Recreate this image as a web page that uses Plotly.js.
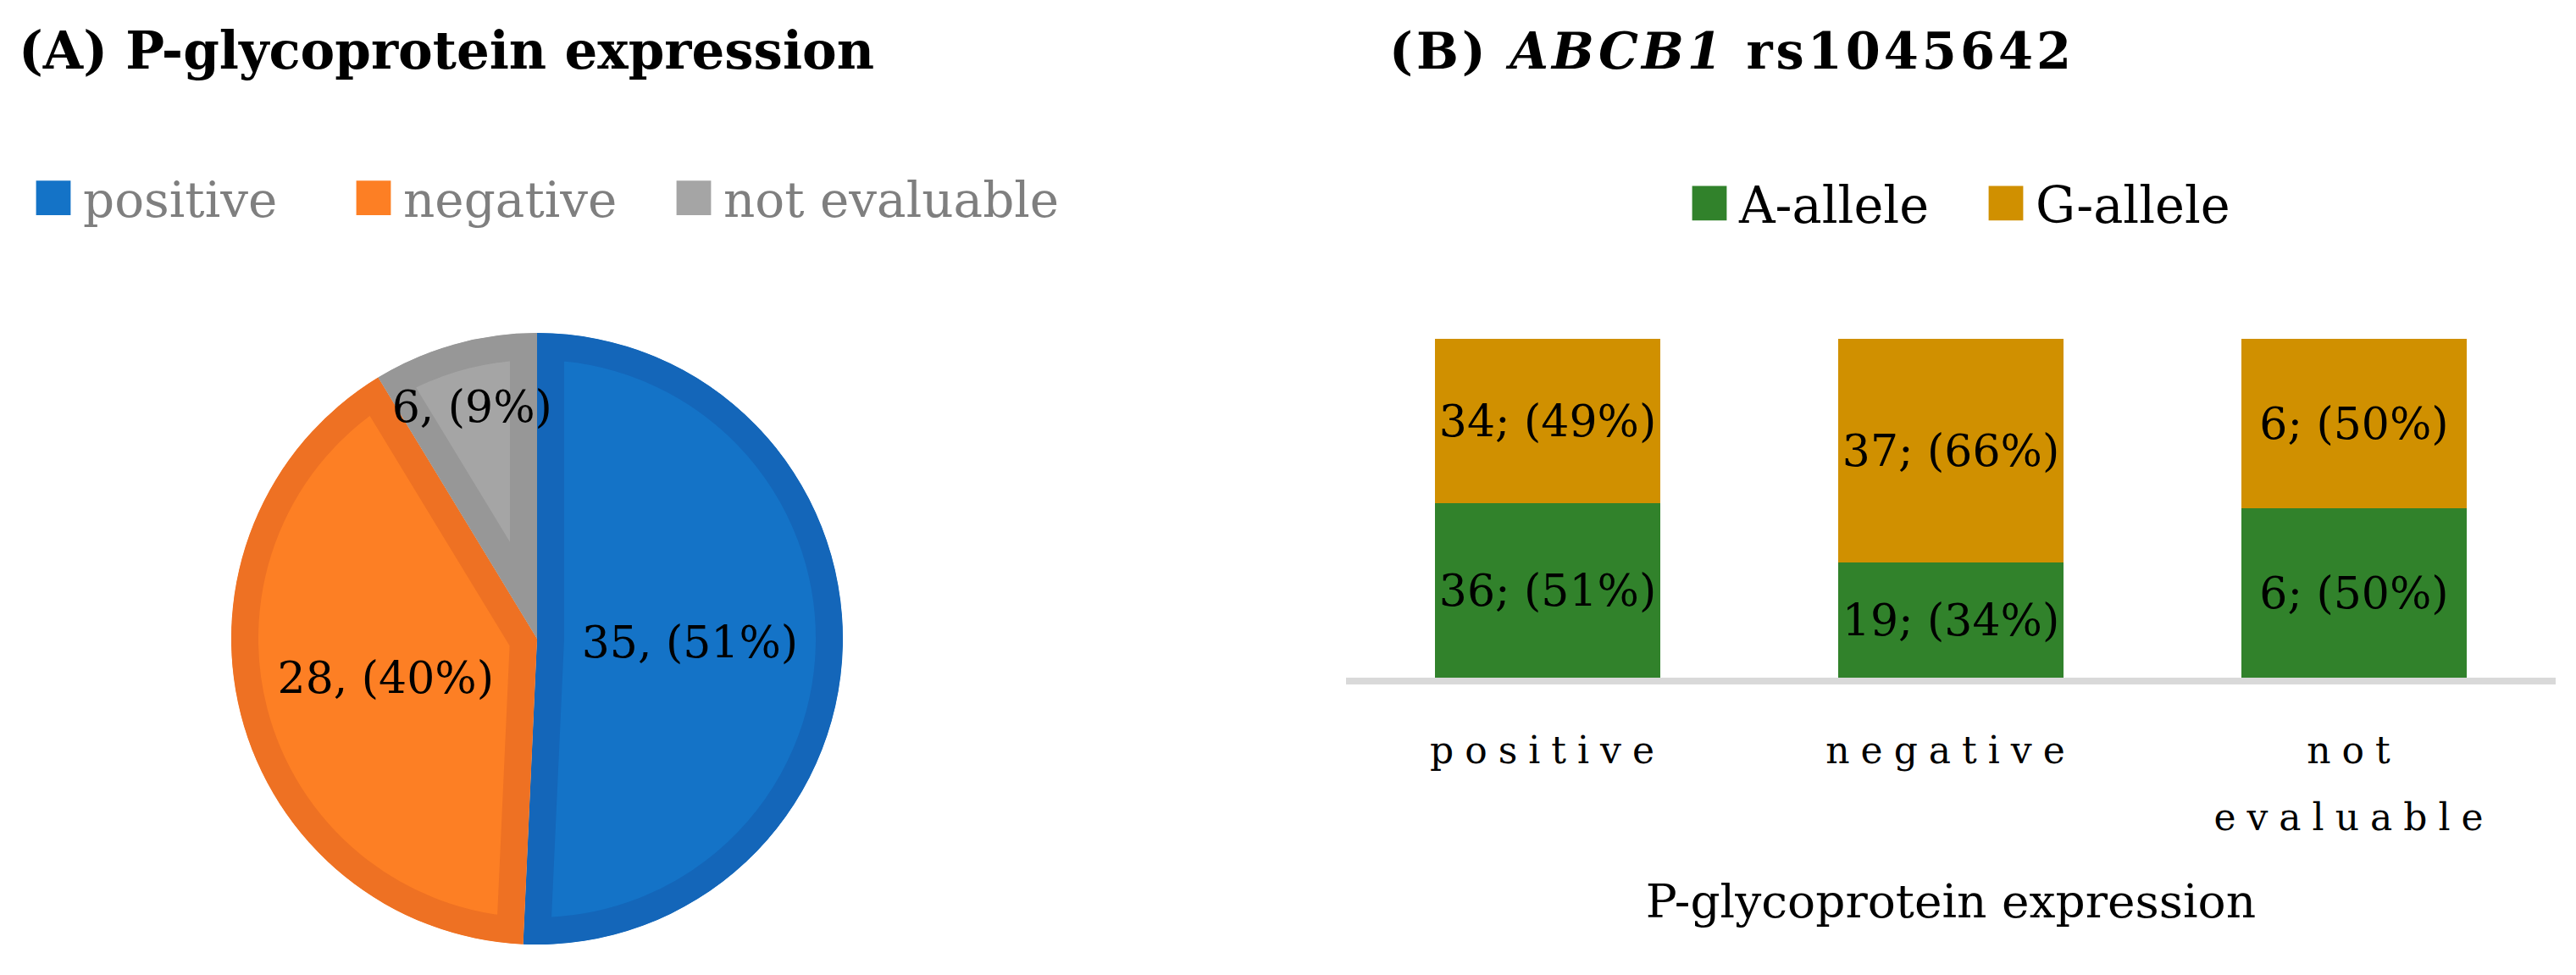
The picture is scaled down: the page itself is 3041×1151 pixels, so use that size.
<!DOCTYPE html>
<html>
<head>
<meta charset="utf-8">
<script src="https://cdn.plot.ly/plotly-3.0.1.min.js"></script>
<style>
  body { margin: 0; background: #fff; }
  #chart { width: 3041px; height: 1151px; }
  /* wide letter spacing like the original tick labels and panel B title */
  .xtick text { letter-spacing: 13px; }
  .gtitle { letter-spacing: 4px; }
  /* bigger square legend keys, and don't cut the last legend entry */
  .legendpoints path { transform: translate(35px, 0px) scale(3.4); stroke-width: 0 !important; }
  .legend .scrollbox { clip-path: none !important; }
</style>
</head>
<body>
<div id="chart"></div>
<script>
// panel A - P-glycoprotein expression
var pgpLabels = ['positive', 'negative', 'not evaluable'];
var pgpCounts = [35, 28, 6];
var pgpPct = [51, 40, 9];
var pieFill = ['#1473c7', '#fd7f24', '#a5a5a5'];
var pieEdge = ['#1466b9', '#ee7123', '#979797'];

// panel B - ABCB1 rs1045642 alleles per group
var groups = ['positive', 'negative', 'not<br>evaluable'];
var aCounts = [36, 19, 6];
var aPct = [51, 34, 50];
var gCounts = [34, 37, 6];
var gPct = [49, 66, 50];

var serif = 'DejaVu Serif';

var pieText = pgpCounts.map(function (v, i) { return v + ', (' + pgpPct[i] + '%)'; });
var aText = aCounts.map(function (v, i) { return v + '; (' + aPct[i] + '%)'; });
var gText = gCounts.map(function (v, i) { return v + '; (' + gPct[i] + '%)'; });

var pie = {
  type: 'pie',
  labels: pgpLabels,
  values: pgpCounts,
  text: pieText,
  textinfo: 'text',
  textposition: 'inside',
  insidetextorientation: 'horizontal',
  textfont: {family: serif, size: 52, color: '#000'},
  sort: false,
  direction: 'clockwise',
  rotation: 0,
  marker: {colors: pieFill, line: {color: pieEdge, width: 64}},
  domain: {x: [273 / 3041, 995 / 3041], y: [36 / 1151, 758 / 1151]},
  legend: 'legend',
  hoverinfo: 'none'
};

var barA = {
  type: 'bar',
  name: 'A-allele',
  x: groups,
  y: aCounts,
  text: aText,
  textposition: 'inside',
  insidetextanchor: 'middle',
  textfont: {family: serif, size: 52, color: '#000'},
  marker: {color: '#31822b'},
  legend: 'legend2',
  hoverinfo: 'none'
};

var barG = {
  type: 'bar',
  name: 'G-allele',
  x: groups,
  y: gCounts,
  text: gText,
  textposition: 'inside',
  insidetextanchor: 'middle',
  textfont: {family: serif, size: 52, color: '#000'},
  marker: {color: '#d09000'},
  legend: 'legend2',
  hoverinfo: 'none'
};

var layout = {
  width: 3041,
  height: 1151,
  margin: {l: 0, r: 0, t: 0, b: 0},
  paper_bgcolor: '#fff',
  plot_bgcolor: '#fff',
  font: {family: serif, color: '#000'},
  barmode: 'stack',
  barnorm: 'percent',
  bargap: 0.44,
  uniformtext: {mode: 'show', minsize: 52},
  hovermode: false,
  title: {
    text: '<b>(B) <i>ABCB1</i> rs1045642</b>',
    font: {family: serif, size: 59, color: '#000'},
    xref: 'paper', x: 1640 / 3041, xanchor: 'left',
    yref: 'paper', y: 0.948, yanchor: 'middle'
  },
  annotations: [{
    text: '<b>(A) P-glycoprotein expression</b>',
    font: {family: serif, size: 61, color: '#000'},
    xref: 'paper', x: 20 / 3041, xanchor: 'left',
    yref: 'paper', y: 0.948, yanchor: 'middle',
    showarrow: false
  }],
  xaxis: {
    type: 'category',
    domain: [1589 / 3041, 3017 / 3041],
    range: [-0.5, 2.5],
    showline: true,
    linecolor: '#d9d9d9',
    linewidth: 8,
    showgrid: false,
    zeroline: false,
    ticks: '',
    ticklabelstandoff: 40,
    tickfont: {family: serif, size: 44, color: '#000'},
    title: {text: 'P-glycoprotein expression', font: {family: serif, size: 55, color: '#000'}, standoff: 80},
    fixedrange: true
  },
  yaxis: {
    domain: [351 / 1151, 751 / 1151],
    range: [0, 100],
    visible: false,
    fixedrange: true
  },
  legend: {
    orientation: 'h',
    x: 28 / 3041, xanchor: 'left',
    y: 1 - 234 / 1151, yanchor: 'middle',
    itemwidth: 60,
    entrywidth: 303,
    font: {family: serif, size: 58, color: '#7f7f7f'},
    bgcolor: 'rgba(0,0,0,0)'
  },
  legend2: {
    orientation: 'h',
    traceorder: 'normal',
    x: 1983 / 3041, xanchor: 'left',
    y: 1 - 240 / 1151, yanchor: 'middle',
    itemwidth: 60,
    entrywidth: 275,
    font: {family: serif, size: 59, color: '#000'},
    bgcolor: 'rgba(0,0,0,0)'
  }
};

Plotly.newPlot('chart', [pie, barA, barG], layout, {displayModeBar: false, responsive: false})
  .then(function (gd) {
    // keep each slice's border on its own side of the edge (inner border look)
    var ns = 'http://www.w3.org/2000/svg';
    var svg = gd.querySelector('.main-svg');
    var defs = svg.querySelector('defs');
    if (!defs) {
      defs = document.createElementNS(ns, 'defs');
      svg.insertBefore(defs, svg.firstChild);
    }
    gd.querySelectorAll('.slice path.surface').forEach(function (p, i) {
      var cp = document.createElementNS(ns, 'clipPath');
      cp.setAttribute('id', 'sliceclip' + i);
      var shape = p.cloneNode(false);
      shape.removeAttribute('style');
      cp.appendChild(shape);
      defs.appendChild(cp);
      p.setAttribute('clip-path', 'url(#sliceclip' + i + ')');
    });
    // looser line spacing for the two-line tick label
    gd.querySelectorAll('.xtick text tspan.line').forEach(function (t, i) {
      if (i > 0 || t.getAttribute('dy')) {
        if (t.getAttribute('dy') === '1.3em') t.setAttribute('dy', '1.8em');
      }
    });
  });
</script>
</body>
</html>
